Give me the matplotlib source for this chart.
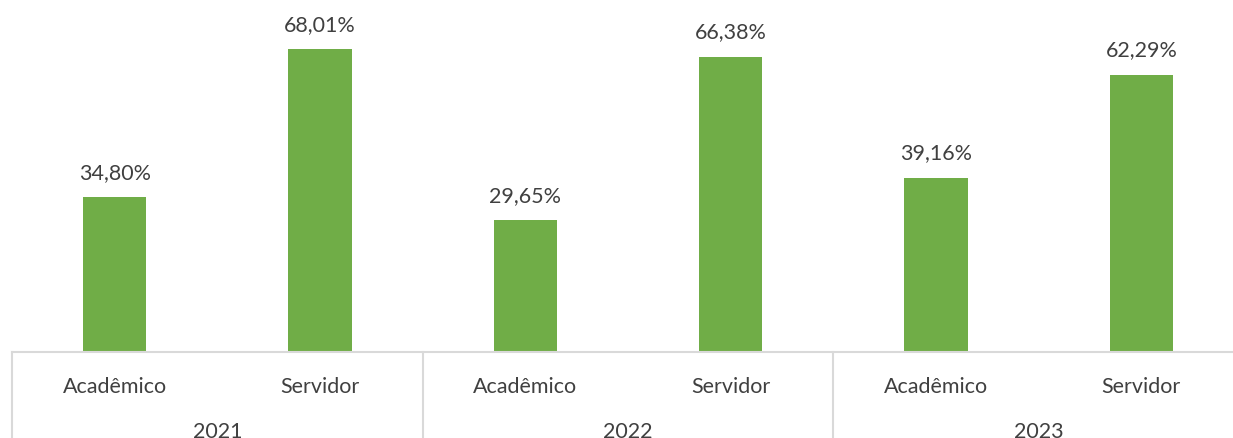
import matplotlib.pyplot as plt
import matplotlib.transforms as mtransforms

# Dados
anos = ["2021", "2022", "2023"]
categorias = ["Acadêmico", "Servidor"]
valores = [34.80, 68.01, 29.65, 66.38, 39.16, 62.29]
rotulos = ["34,80%", "68,01%", "29,65%", "66,38%", "39,16%", "62,29%"]

verde = "#70AD47"
cinza_txt = "#404040"
cinza_linha = "#D9D9D9"
plt.rcParams["font.family"] = ["Lato", "DejaVu Sans"]

W, H = 1233, 439
fig = plt.figure(figsize=(W / 100, H / 100), dpi=100)
# o eixo vai um pouco além da borda direita (como na imagem original)
ax = fig.add_axes([12 / W, (H - 353) / H, 1232 / W, 353 / H])

x = list(range(len(valores)))
ax.bar(x, valores, width=0.31, color=verde)
for xi, v, r in zip(x, valores, rotulos):
    ax.annotate(r, (xi, v), xytext=(0, 11), textcoords="offset points",
                ha="center", va="bottom", fontsize=15.5, color=cinza_txt)

ax.set_xlim(-0.5, len(valores) - 0.5)
ax.set_ylim(0, 79.3)
for s in ["top", "right", "left"]:
    ax.spines[s].set_visible(False)
ax.spines["bottom"].set_color(cinza_linha)
ax.spines["bottom"].set_linewidth(1.5)
ax.set_yticks([])
ax.set_xticks([])

trans = mtransforms.blended_transform_factory(ax.transData, ax.transAxes)
for i in range(len(valores)):
    ax.text(i, -0.095, categorias[i % 2], transform=trans, ha="center", va="center",
            fontsize=15.5, color=cinza_txt, clip_on=False)
for j, ano in enumerate(anos):
    ax.text(2 * j + 0.5, -0.225, ano, transform=trans, ha="center", va="center",
            fontsize=15.5, color=cinza_txt, clip_on=False)
for j in range(len(anos) + 1):
    ax.plot([2 * j - 0.5, 2 * j - 0.5], [0, -0.3], transform=trans,
            color=cinza_linha, lw=1.5, clip_on=False)

fig.savefig("out.png", dpi=100)
